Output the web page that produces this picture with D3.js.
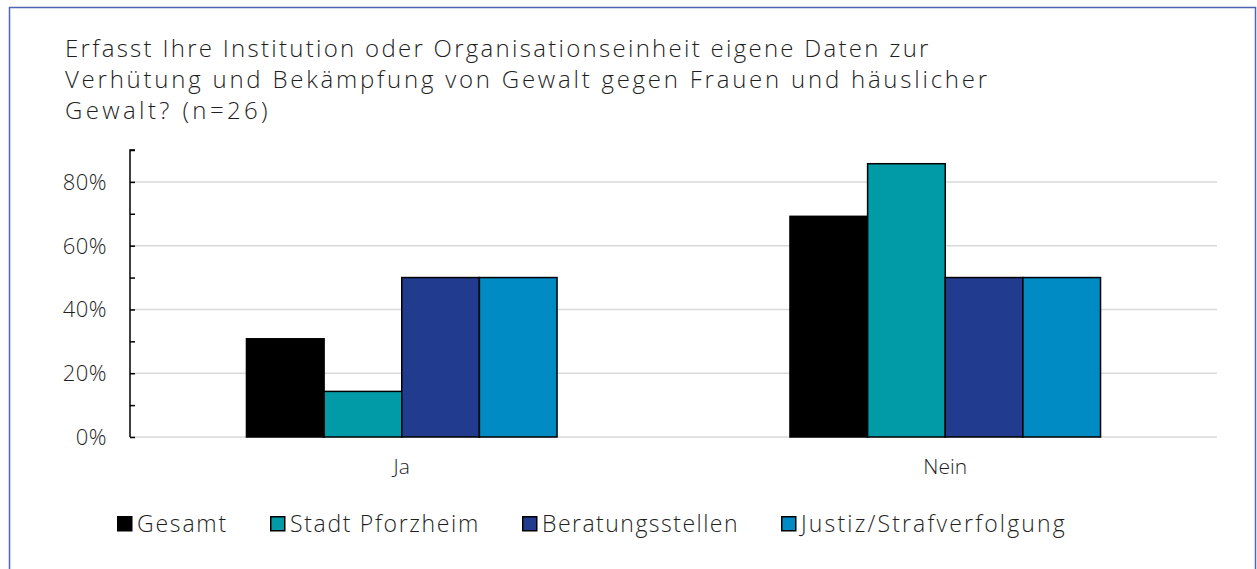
<!DOCTYPE html>
<html><head><meta charset="utf-8">
<script src="https://cdn.jsdelivr.net/npm/d3@7"></script>
<style>
html,body{margin:0;padding:0;background:#fff;}
svg{display:block;font-family:"Open Sans",Lato,sans-serif;font-weight:300;}
</style></head>
<body>
<svg id="chart" width="1257" height="569"></svg>
<script>
const titleLines = [
  "Erfasst Ihre Institution oder Organisationseinheit eigene Daten zur",
  "Verhütung und Bekämpfung von Gewalt gegen Frauen und häuslicher",
  "Gewalt? (n=26)"
];
const categories = ["Ja", "Nein"];
const seriesNames = ["Gesamt", "Stadt Pforzheim", "Beratungsstellen", "Justiz/Strafverfolgung"];
const gesamt = [0.308, 0.692];
const stadtPforzheim = [0.143, 0.857];
const beratungsstellen = [0.5, 0.5];
const justiz = [0.5, 0.5];
const seriesColors = ["#000000", "#009ba6", "#213b8f", "#008bc4"];
const yTicks = [0, 0.2, 0.4, 0.6, 0.8];
const yMinorTicks = [0, 0.1, 0.2, 0.3, 0.4, 0.5, 0.6, 0.7, 0.8, 0.9];

const seriesValues = [gesamt, stadtPforzheim, beratungsstellen, justiz];

const svg = d3.select("#chart");

// adjust letter spacing so a text node reaches a given width
function fitWidth(node, target) {
  const w = node.getComputedTextLength();
  const n = node.textContent.length;
  if (n > 1) d3.select(node).attr("letter-spacing", ((target - w) / n).toFixed(2));
}

// outer frame
svg.append("rect").attr("x", 9.5).attr("y", 7.5).attr("width", 1246).attr("height", 600)
  .attr("fill", "none").attr("stroke", "#4d66b3").attr("stroke-width", 1.5);

// title
const titleTargets = [866, 925, 206];
titleLines.forEach((t, i) => {
  const tt = svg.append("text").attr("x", 65).attr("y", 57 + i * 31)
    .attr("font-size", 24).attr("fill", "#1f1f1f").text(t);
  fitWidth(tt.node(), titleTargets[i]);
});

const pLeft = 130, pRight = 1217, pTop = 150, pBottom = 437;
const y = d3.scaleLinear().domain([0, 0.9]).range([pBottom, pTop]);
const x0 = d3.scaleBand().domain(categories).range([pLeft, pRight]).paddingInner(0).paddingOuter(0);
const x1 = d3.scaleBand().domain(seriesNames).range([0, x0.bandwidth()]).paddingInner(0).paddingOuter(1.5);

// gridlines
svg.append("g").selectAll("line").data(yTicks).join("line")
  .attr("x1", pLeft).attr("x2", pRight)
  .attr("y1", d => y(d)).attr("y2", d => y(d))
  .attr("stroke", "#d9d9d9").attr("stroke-width", 1.5);

// bars
categories.forEach((c, ci) => {
  svg.append("g").selectAll("rect").data(seriesNames).join("rect")
    .attr("x", s => x0(c) + x1(s))
    .attr("width", x1.bandwidth())
    .attr("y", (s, si) => y(seriesValues[si][ci]))
    .attr("height", (s, si) => y(0) - y(seriesValues[si][ci]))
    .attr("fill", (s, si) => seriesColors[si])
    .attr("stroke", "#000").attr("stroke-width", 1.5);
});

// y axis
const yAxis = d3.axisRight(y).tickValues(yMinorTicks).tickSize(5).tickFormat("");
const ya = svg.append("g").attr("transform", `translate(${pLeft},0)`).call(yAxis);
ya.select(".domain").attr("stroke", "#000").attr("stroke-width", 1.5).attr("d", `M5,${pTop}H0V${pBottom}`);
ya.selectAll(".tick line").attr("stroke", "#000").attr("stroke-width", 1.5);

// y labels
svg.append("g").selectAll("text").data(yTicks).join("text")
  .attr("x", 107).attr("y", d => y(d) + 8)
  .attr("text-anchor", "end").attr("font-size", 22).attr("fill", "#1f1f1f")
  .attr("letter-spacing", 0.5)
  .text(d3.format(".0%"));

// x labels
svg.append("g").selectAll("text").data(categories).join("text")
  .attr("x", d => x0(d) + x0.bandwidth() / 2).attr("y", 474)
  .attr("text-anchor", "middle").attr("font-size", 21).attr("fill", "#1f1f1f")
  .text(d => d);

// legend
let lx = 117;
const legendTargets = [91, 190, 197, 266];
const lg = svg.append("g");
seriesNames.forEach((s, i) => {
  lg.append("rect").attr("x", lx + 0.75).attr("y", 516.75).attr("width", 14).attr("height", 14)
    .attr("fill", seriesColors[i]).attr("stroke", "#000").attr("stroke-width", 1.5);
  const t = lg.append("text").attr("x", lx + 20).attr("y", 532)
    .attr("font-size", 23).attr("fill", "#1f1f1f").text(s);
  fitWidth(t.node(), legendTargets[i]);
  lx += 20 + legendTargets[i] + 42;
});
</script>
</body></html>
